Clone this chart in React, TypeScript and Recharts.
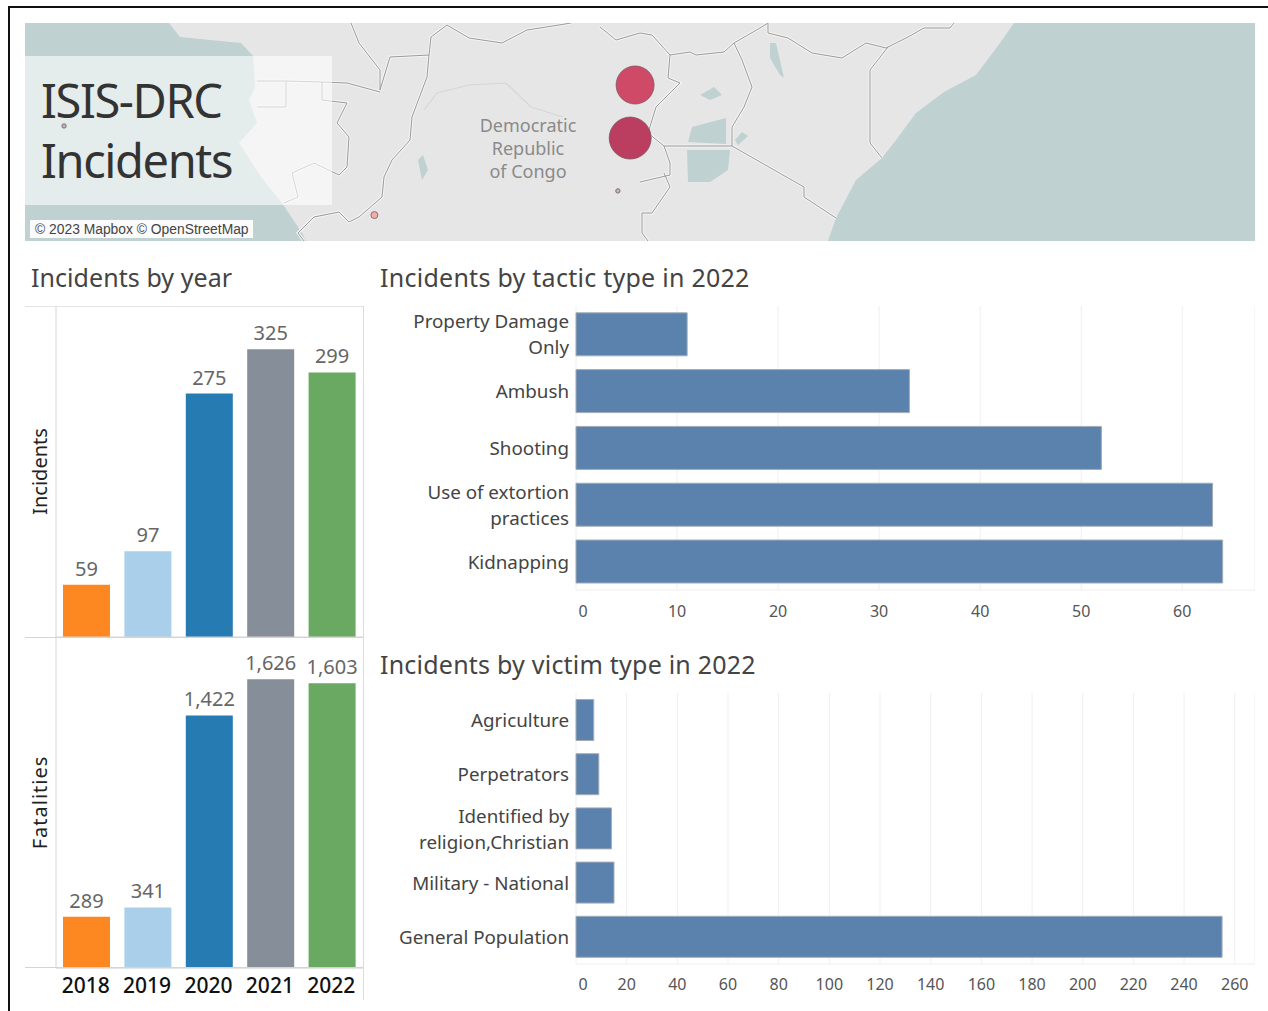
import { BarChart, Bar, Cell, XAxis, YAxis, CartesianGrid, LabelList, ScatterChart, Scatter, ZAxis } from 'recharts'

const FONT = '"Noto Sans", sans-serif'

const YEARS = ['2018', '2019', '2020', '2021', '2022']
const INCIDENTS = [59, 97, 275, 325, 299]
const FATALITIES = [289, 341, 1422, 1626, 1603]
const YEAR_COLORS = ['#fd8721', '#aacfea', '#277bb3', '#858e99', '#69a961']

const TACTICS = ['Property Damage|Only', 'Ambush', 'Shooting', 'Use of extortion|practices', 'Kidnapping']
const TACTIC_COUNTS = [11, 33, 52, 63, 64]
const TACTIC_TICKS = [0, 10, 20, 30, 40, 50, 60]

const VICTIMS = ['Agriculture', 'Perpetrators', 'Identified by|religion,Christian', 'Military - National', 'General Population']
const VICTIM_COUNTS = [7, 9, 14, 15, 255]
const VICTIM_TICKS = [0, 20, 40, 60, 80, 100, 120, 140, 160, 180, 200, 220, 240, 260]

const PLACE_LON = [30.45, 30.27, 29.82, 20.9, 9.53]
const PLACE_LAT = [2.13, -0.59, -3.3, -4.54, 0.03]
const PLACE_COUNT = [150, 183, 2, 5, 2]

const yearRows = (vals: number[]) => YEARS.map((year, i) => ({ year, value: vals[i] }))
const barRows = (names: string[], vals: number[]) => names.map((name, i) => ({ name, value: vals[i] }))
const places = PLACE_LON.map((lon, i) => ({ lon, lat: PLACE_LAT[i], count: PLACE_COUNT[i] }))

// background outlines of the map, page pixels
const SEA = '#bfd1d1'
const WEST_SEA = '25,23 169,23 180,37 241,43 253,56 255,87 249,100 257,123 239,143 261,177 282,203 302,233 306,241 25,241'
const EAST_SEA = '1014,23 1000,43 976,75 944,92 916,113 896,140 882,158 856,180 836,218 828,241 1255,241 1255,23'
const BORDERS = [
  '351,23 359,43 380,70 380,90 390,57 429,55 431,37 447,25 469,38 502,43 527,30 559,25 571,23',
  '600,27 616,40 640,33 652,35 670,55 690,52 696,55 724,52 734,43 760,28 768,23',
  '768,23 768,33 788,38 812,53 842,58 866,43 886,48 908,37 924,28 950,28 954,23',
  '888,47 870,70 870,143 882,158',
  '734,43 742,60 752,87 744,107 732,127 732,146 804,187 804,197 836,218',
  '664,146 732,146',
  '670,55 668,78 680,83 656,107 648,133 664,146 670,163 670,175 640,182',
  '664,173 670,187 652,213 642,213 642,233 648,241',
  '429,55 427,77 412,117 410,140 392,160 384,177 382,197 359,217 349,222 339,212 314,217 298,233 304,241',
  '257,81 286,81 286,107 257,107',
  '286,81 322,82 347,83 380,92',
  '322,82 322,100 347,103 337,123 349,137 347,167 339,175 314,163 292,173 298,197 284,203',
]
const RIVER = '424,110 437,93 469,85 506,83 531,107 563,117'
const LAKES = [
  '688,142 692,127 726,118 726,144',
  '687,150 730,150 728,170 710,182 688,182',
  '770,43 776,43 784,78 780,75 770,58',
  '700,95 714,87 722,95 710,100',
  '735,140 742,132 748,136 738,145',
  '418,160 423,155 428,170 422,180',
]

function MapBackground() {
  return (
    <svg width={1230} height={218} viewBox="25 23 1230 218" style={{ position: 'absolute', left: 25, top: 23 }}>
      <rect x={25} y={23} width={1230} height={218} fill="#e6e6e6" />
      <polygon points={WEST_SEA} fill={SEA} />
      <polygon points={EAST_SEA} fill={SEA} />
      {LAKES.map((p) => <polygon key={p} points={p} fill={SEA} />)}
      <polyline points={RIVER} fill="none" stroke="#d2d8d8" strokeWidth={1.2} />
      {BORDERS.map((p) => <polyline key={p} points={p} fill="none" stroke="#f4f4f4" strokeWidth={3} />)}
      {BORDERS.map((p) => <polyline key={p} points={p} fill="none" stroke="#9a9a9a" strokeWidth={1} />)}
      <rect x={25} y={56} width={307} height={149} fill="#fff" fillOpacity={0.58} />
    </svg>
  )
}

function placeFill(count: number) {
  if (count > 170) return '#bb3e60'
  if (count > 100) return '#cf4a67'
  if (count > 2) return '#f0b0a8'
  return '#b9b9b9'
}

function PlaceDot(props: any) {
  const { cx, cy, payload } = props
  const r = 1.55 * Math.sqrt(payload.count)
  return <circle cx={cx} cy={cy} r={r} fill={placeFill(payload.count)} stroke="#7c5560" strokeOpacity={0.8} />
}

function Text({ x, y, size, color, children, spacing }: any) {
  return (
    <div style={{ position: 'absolute', left: x, top: y, fontFamily: FONT, fontSize: size, color, lineHeight: 1, whiteSpace: 'nowrap', letterSpacing: spacing }}>
      {children}
    </div>
  )
}

function CategoryTick({ x, y, payload }: any) {
  const lines = String(payload.value).split('|')
  const start = y - ((lines.length - 1) * 26) / 2 + 7
  return (
    <text x={x} y={start} textAnchor="end" fontFamily={FONT} fontSize={18.8} fill="#444">
      {lines.map((l, i) => <tspan key={l} x={x} y={start + i * 26}>{l}</tspan>)}
    </text>
  )
}

function ValueTick({ x, y, payload, dy }: any) {
  return (
    <text x={payload.value === 0 ? x + 7 : x} y={y + dy} textAnchor="middle" fontFamily={FONT} fontSize={16} fill="#555">
      {payload.value}
    </text>
  )
}

function YearChart({ vals, max, title, titleSpacing, height, ticks, showYears }: any) {
  return (
    <BarChart width={338} height={height} data={yearRows(vals)} margin={{ top: 0, right: 0, bottom: 0, left: 0 }} barSize={47}>
      {ticks && <CartesianGrid vertical={false} stroke="#f0f0f0" />}
      <YAxis
        type="number"
        domain={[0, max]}
        ticks={ticks ?? [0]}
        width={31}
        tick={false}
        tickLine={false}
        axisLine={{ stroke: '#d4d4d4' }}
        label={{ value: title, angle: -90, position: 'center', dx: -1, style: { fontFamily: FONT, fontSize: 20, fill: '#222', letterSpacing: titleSpacing } }}
      />
      <XAxis
        dataKey="year"
        height={showYears ? 33 : 1}
        tickLine={false}
        axisLine={{ stroke: '#d4d4d4' }}
        dy={2}
        dx={-1}
        tick={showYears ? { fontFamily: FONT, fontSize: 21, fontWeight: 500, fill: '#111' } : false}
      />
      <Bar dataKey="value" isAnimationActive={false}>
        {YEARS.map((y, i) => <Cell key={y} fill={YEAR_COLORS[i]} />)}
        <LabelList
          dataKey="value"
          position="top"
          offset={9}
          formatter={(v: any) => Number(v).toLocaleString('en-US')}
          style={{ fontFamily: FONT, fontSize: 20, fill: '#666' }}
        />
      </Bar>
    </BarChart>
  )
}

function CountChart({ names, vals, ticks, max, height, tickDy }: any) {
  return (
    <BarChart
      layout="vertical"
      width={886}
      height={height}
      data={barRows(names, vals)}
      margin={{ top: 0, right: 0, bottom: 0, left: 0 }}
      barCategoryGap="12%"
    >
      <CartesianGrid horizontal={false} stroke="#efefef" />
      <XAxis
        type="number"
        domain={[0, max]}
        ticks={ticks}
        interval={0}
        height={36}
        tick={<ValueTick dy={tickDy} />}
        tickLine={false}
        axisLine={{ stroke: '#efefef' }}
      />
      <YAxis type="category" dataKey="name" width={207} tick={<CategoryTick />} tickLine={false} axisLine={false} interval={0} tickMargin={1} />
      <Bar dataKey="value" fill="#5b82ad" stroke="#a3acb6" strokeWidth={1} isAnimationActive={false} />
    </BarChart>
  )
}

export default function App() {
  return (
    <div style={{ position: 'absolute', left: 0, top: 0, width: 1268, height: 1011, background: '#fff', overflow: 'hidden' }}>
      <div style={{ position: 'absolute', left: 8, top: 6, width: 1260, height: 2, background: '#111' }} />
      <div style={{ position: 'absolute', left: 8, top: 6, width: 2, height: 1005, background: '#111' }} />

      <MapBackground />
      <div style={{ position: 'absolute', left: 25, top: 23 }}>
        <ScatterChart width={1230} height={218} margin={{ top: 0, right: 0, bottom: 0, left: 0 }}>
          <XAxis type="number" dataKey="lon" domain={[8.1, 53.16]} hide />
          <YAxis type="number" dataKey="lat" domain={[-5.87, 5.31]} hide />
          <ZAxis type="number" dataKey="count" />
          <Scatter data={places} shape={<PlaceDot />} isAnimationActive={false} />
        </ScatterChart>
      </div>
      <Text x={41} y={77} size={47} color="#333" spacing={-1.4}>ISIS-DRC</Text>
      <Text x={41} y={137} size={47} color="#333" spacing={-1.4}>Incidents</Text>
      {['Democratic', 'Republic', 'of Congo'].map((t, i) => (
        <div key={t} style={{ position: 'absolute', left: 428, width: 200, top: 116 + i * 23, textAlign: 'center', fontFamily: FONT, fontSize: 18, lineHeight: 1, color: '#8a8a8a' }}>{t}</div>
      ))}
      <div style={{ position: 'absolute', left: 30, top: 220, width: 223, height: 18, background: '#fbfbfb' }} />
      <div style={{ position: 'absolute', left: 35, top: 221, fontFamily: '"Liberation Sans", sans-serif', fontSize: 13.85, lineHeight: '16px', color: '#444', whiteSpace: 'nowrap' }}>© 2023 Mapbox © OpenStreetMap</div>

      <Text x={31} y={265} size={25} color="#444" spacing={0.06}>Incidents by year</Text>
      <Text x={380} y={265} size={25} color="#444" spacing={0.26}>Incidents by tactic type in 2022</Text>
      <Text x={380} y={652} size={25} color="#444" spacing={0.22}>Incidents by victim type in 2022</Text>

      {/* year panels */}
      <div style={{ position: 'absolute', left: 25, top: 306 }}>
        <YearChart vals={INCIDENTS} max={374} title="Incidents" height={332} />
      </div>
      <div style={{ position: 'absolute', left: 25, top: 637 }}>
        <YearChart vals={FATALITIES} max={1864} title="Fatalities" titleSpacing={1} height={364} ticks={[0, 1000]} showYears />
      </div>
      <div style={{ position: 'absolute', left: 25, top: 306, width: 338, height: 1, background: '#e4e4e4' }} />
      <div style={{ position: 'absolute', left: 25, top: 637, width: 338, height: 1, background: '#d4d4d4' }} />
      <div style={{ position: 'absolute', left: 25, top: 967, width: 338, height: 1, background: '#d4d4d4' }} />
      <div style={{ position: 'absolute', left: 363, top: 306, width: 1, height: 694, background: '#dcdcdc' }} />

      <div style={{ position: 'absolute', left: 369, top: 306 }}>
        <CountChart names={TACTICS} vals={TACTIC_COUNTS} ticks={TACTIC_TICKS} max={67.2} height={320} tickDy={19} />
      </div>
      <div style={{ position: 'absolute', left: 369, top: 693 }}>
        <CountChart names={VICTIMS} vals={VICTIM_COUNTS} ticks={VICTIM_TICKS} max={268} height={307} tickDy={18} />
      </div>
    </div>
  )
}
